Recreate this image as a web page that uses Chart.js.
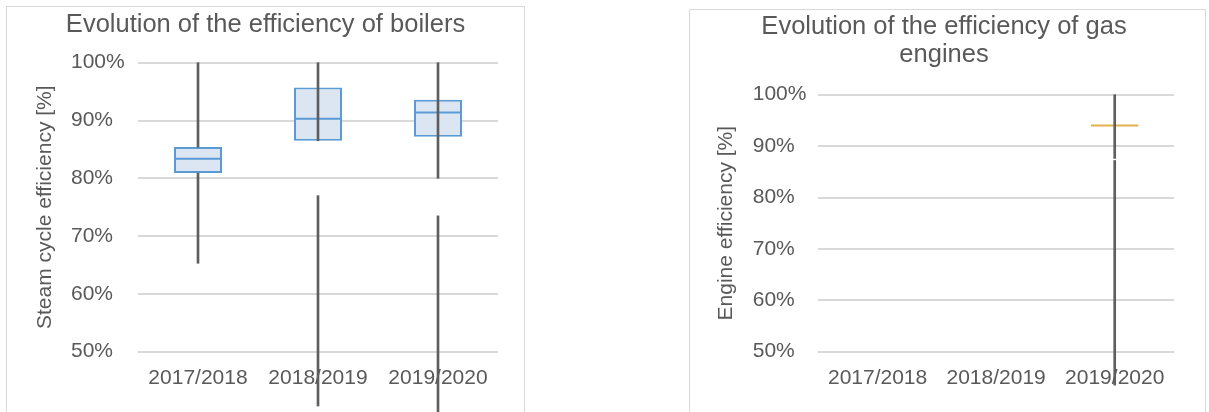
<!DOCTYPE html>
<html>
<head>
<meta charset="utf-8">
<script src="https://cdn.jsdelivr.net/npm/chart.js@4/dist/chart.umd.min.js"></script>
<style>
  html, body { margin: 0; padding: 0; background: #fff; overflow: hidden; width: 1209px; height: 412px; }
  .panel { position: absolute; border: 1px solid #d9d9d9; border-bottom: none; background: #fff; }
  #p1 { left: 6px; top: 6px; width: 517px; height: 405px; }
  #p2 { left: 689px; top: 9px; width: 515px; height: 402px; }
  canvas { display: block; }
</style>
</head>
<body>
<div class="panel" id="p1"><canvas id="c1" width="517" height="405"></canvas></div>
<div class="panel" id="p2"><canvas id="c2" width="515" height="402"></canvas></div>
<script>
// Heating seasons on the category axis
const seasons = ['2017/2018', '2018/2019', '2019/2020'];

// Y axis range and tick step (percent)
const yMin = 50;
const yMax = 100;
const yStep = 10;

// Boilers: steam cycle efficiency [%]
const boilerQ1 = [80.9, 86.5, 87.2];
const boilerQ3 = [85.4, 95.7, 93.6];
const boilerMedian = [83.4, 90.3, 91.4];
const boilerUpperWhiskerFrom = [85.4, 86.5, 80.0];
const boilerUpperWhiskerTo = [100, 100, 100];
const boilerLowerWhiskerFrom = [65.3, 40.6, 38.0];
const boilerLowerWhiskerTo = [80.9, 77.0, 73.5];

// Gas engines: engine efficiency [%]
const engineMedian = [null, null, 94.0];
const engineUpperWhiskerFrom = [null, null, 87.6];
const engineUpperWhiskerTo = [null, null, 100];
const engineLowerWhiskerFrom = [null, null, 43.5];
const engineLowerWhiskerTo = [null, null, 87.2];

const TEXT = '#595959';
const GRID = '#d9d9d9';
const WHISKER = '#5e5e5e';
const BOX_EDGE = '#5b9bd5';
const BOX_FILL = '#dce6f2';
const MEDIAN_ENGINE = '#e2b24c';
const FONT = "'Liberation Sans', Arial, sans-serif";

Chart.defaults.font.family = FONT;
Chart.defaults.color = TEXT;

const pairs = (from, to) => from.map((v, i) => (v == null || to[i] == null) ? null : [v, to[i]]);

function whisker(label, from, to) {
  return {
    type: 'bar', label, data: pairs(from, to),
    backgroundColor: WHISKER, borderWidth: 0,
    barThickness: 2, grouped: false, clip: false, order: 0,
    xAxisID: 'x', yAxisID: 'y'
  };
}

function medianLine(data, color, halfWidth) {
  return {
    type: 'line', label: 'Median', data,
    showLine: false, pointStyle: 'line',
    pointRadius: halfWidth, pointHoverRadius: halfWidth,
    borderColor: color, pointBorderColor: color, pointBorderWidth: 2,
    order: 1, clip: false, xAxisID: 'x', yAxisID: 'y'
  };
}

function box(q1, q3) {
  return {
    type: 'bar', label: 'Interquartile range', data: pairs(q1, q3),
    backgroundColor: BOX_FILL, borderColor: BOX_EDGE, borderWidth: 2,
    borderSkipped: false, barPercentage: 0.4, categoryPercentage: 1,
    grouped: false, order: 2, xAxisID: 'x', yAxisID: 'y'
  };
}

function makeChart(id, o) {
  return new Chart(document.getElementById(id), {
    data: { labels: seasons, datasets: o.datasets },
    options: {
      responsive: false,
      animation: false,
      devicePixelRatio: 1,
      events: [],
      layout: { padding: { left: 0, right: o.layoutRight, top: 0, bottom: 0 } },
      plugins: {
        legend: { display: false },
        tooltip: { enabled: false },
        title: {
          display: true, text: o.title, color: TEXT,
          font: { size: 25.5, weight: 'normal', lineHeight: 28 / 25.5 },
          padding: { top: o.titleTop, bottom: o.titleBottom }
        }
      },
      scales: {
        x: {
          type: 'category',
          grid: { display: false, drawTicks: false },
          border: { display: false },
          ticks: { color: TEXT, font: { size: 21 }, padding: 14.2, maxRotation: 0, autoSkip: false },
          afterFit(s) { s.height = o.xHeight; }
        },
        y: {
          axis: 'y', position: 'left', weight: 0,
          min: yMin, max: yMax,
          ticks: { stepSize: yStep, color: TEXT, font: { size: 21 }, crossAlign: 'far', padding: 0,
                   callback: v => v + '%' },
          grid: { color: GRID, lineWidth: 2, drawTicks: false },
          border: { display: false },
          afterFit(s) { s.width = o.tickWidth; }
        },
        yTitle: {
          axis: 'y', position: 'left', weight: 1,
          min: yMin, max: yMax,
          ticks: { display: false },
          grid: { display: false, drawTicks: false },
          border: { display: false },
          title: { display: true, text: o.yTitle, color: TEXT, font: { size: 21 },
                   padding: { top: o.yTitlePad, bottom: 0 } },
          afterFit(s) { s.width = o.yTitleWidth; }
        },
        // empty strip on the right of the plot area
        yGutter: {
          axis: 'y', position: 'right',
          min: yMin, max: yMax,
          ticks: { display: false },
          grid: { display: false, drawTicks: false },
          border: { display: false },
          afterFit(s) { s.width = o.gutter; }
        }
      }
    }
  });
}

makeChart('c1', {
  title: 'Evolution of the efficiency of boilers',
  yTitle: 'Steam cycle efficiency [%]',
  titleTop: 3.5, titleBottom: 24.2,
  layoutRight: 0, gutter: 26, xHeight: 60.3,
  yTitleWidth: 64, yTitlePad: 25.4, tickWidth: 67,
  datasets: [
    whisker('Upper whisker', boilerUpperWhiskerFrom, boilerUpperWhiskerTo),
    whisker('Lower whisker', boilerLowerWhiskerFrom, boilerLowerWhiskerTo),
    medianLine(boilerMedian, BOX_EDGE, 24),
    box(boilerQ1, boilerQ3)
  ]
});

makeChart('c2', {
  title: ['Evolution of the efficiency of gas', 'engines'],
  yTitle: 'Engine efficiency [%]',
  titleTop: 3, titleBottom: 25.7,
  layoutRight: 7, gutter: 24, xHeight: 60.3,
  yTitleWidth: 62.7, yTitlePad: 24.1, tickWidth: 65.6,
  datasets: [
    whisker('Upper whisker', engineUpperWhiskerFrom, engineUpperWhiskerTo),
    whisker('Lower whisker', engineLowerWhiskerFrom, engineLowerWhiskerTo),
    medianLine(engineMedian, MEDIAN_ENGINE, 23.7)
  ]
});
</script>
</body>
</html>
